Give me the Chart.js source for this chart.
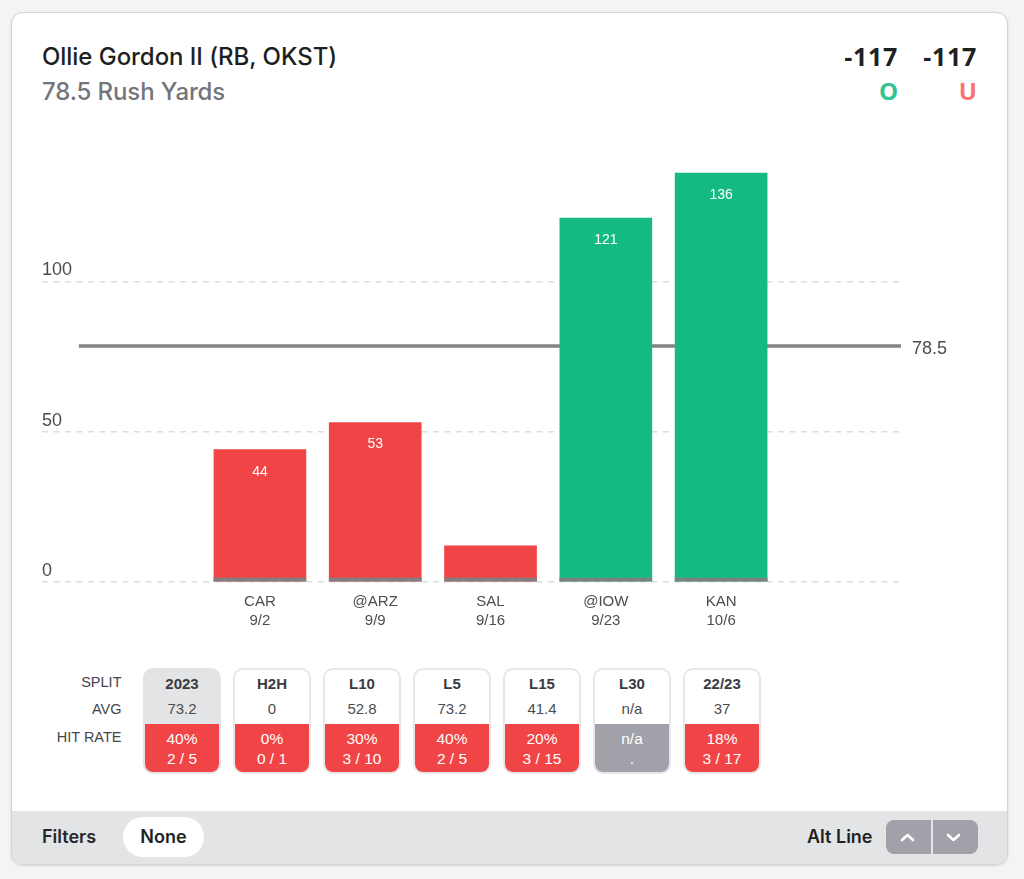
<!DOCTYPE html>
<html>
<head>
<meta charset="utf-8">
<script src="https://cdn.jsdelivr.net/npm/chart.js@4"></script>
<style>
html, body { margin: 0; padding: 0; background: #f4f4f4; width: 1024px; height: 879px; overflow: hidden; }
body { font-family: Inter, sans-serif; position: relative; }
.abs { position: absolute; white-space: nowrap; }
#card { left: 11px; top: 12px; width: 995px; height: 851px; background: #fff; border: 1px solid #d2d3d5; border-radius: 12px; box-shadow: 0 1px 3px rgba(0,0,0,.12); overflow: hidden; }
#footer { left: 0; top: 798px; width: 995px; height: 53px; background: #e3e4e6; }
#chartBox { left: 42px; top: 149px; width: 930px; height: 493px; }
#chart { display: block; }
.rowLabel { right: 902.5px; font: 14.5px "Liberation Sans", sans-serif; color: #45464c; }
.split { width: 74px; height: 102px; top: 668px; border: 2px solid #e6e7e9; border-radius: 10px; overflow: hidden; background: #fff; text-align: center; color: #3a3b40; font-family: "Liberation Sans", sans-serif; }
.split.active { border-color: #e3e4e6; background: #e3e4e6; }
.split .h { position: absolute; left: 0; right: 0; top: 4px; font: bold 15px/20px "Liberation Sans", sans-serif; }
.split .a { position: absolute; left: 0; right: 0; top: 29px; font: 15px/20px "Liberation Sans", sans-serif; color: #4c4d53; }
.split .r { position: absolute; left: 0; right: 0; top: 54px; background: #f14446; color: #fff; font: 15.5px/20px "Liberation Sans", sans-serif; padding-top: 5px; height: 45px; }
.split .r.na { background: #a1a2a9; }
</style>
</head>
<body>
<div id="card" class="abs"><div id="footer" class="abs"></div></div>

<div class="abs" style="left:42px;top:41px;font:500 24px/32px Inter,sans-serif;letter-spacing:-0.05px;color:#1e1f23">Ollie Gordon II (RB, OKST)</div>
<div class="abs" style="left:42px;top:76px;font:500 24px/32px Inter,sans-serif;letter-spacing:-0.12px;color:#73757b">78.5 Rush Yards</div>
<div class="abs" style="right:126px;top:40px;font:700 25px/32px 'Open Sans',sans-serif;letter-spacing:0.7px;color:#1e1f23">-117</div>
<div class="abs" style="right:47px;top:40px;font:700 25px/32px 'Open Sans',sans-serif;letter-spacing:0.7px;color:#1e1f23">-117</div>
<div class="abs" style="right:126px;top:75px;font:700 24px/32px 'Open Sans',sans-serif;color:#34c48f">O</div>
<div class="abs" style="right:47px;top:75px;font:700 24px/32px 'Open Sans',sans-serif;color:#f97373">U</div>

<div id="chartBox" class="abs"><canvas id="chart" width="930" height="493"></canvas></div>

<div id="table"></div>

<div class="abs" style="left:42px;top:825px;font:600 18px/24px Inter,sans-serif;color:#27282c">Filters</div>
<div class="abs" style="left:123px;top:817px;width:81px;height:40px;border-radius:20px;background:#fff;text-align:center;font:600 18px/40px Inter,sans-serif;color:#1e1f23">None</div>
<div class="abs" style="left:807px;top:825px;font:600 18px/24px Inter,sans-serif;color:#1e1f23">Alt Line</div>
<div class="abs" style="left:886px;top:820px;width:45px;height:34px;background:#a1a2a9;border-radius:8px 0 0 8px">
  <svg width="45" height="34"><path d="M16 20 L21.5 15 L27 20" fill="none" stroke="#fff" stroke-width="2.6" stroke-linecap="round" stroke-linejoin="round"/></svg>
</div>
<div class="abs" style="left:933px;top:820px;width:45px;height:34px;background:#a1a2a9;border-radius:0 8px 8px 0">
  <svg width="45" height="34"><path d="M15 15 L20.5 20 L26 15" fill="none" stroke="#fff" stroke-width="2.6" stroke-linecap="round" stroke-linejoin="round"/></svg>
</div>

<script>
// bars
const opponents = ['CAR', '@ARZ', 'SAL', '@IOW', 'KAN'];
const gameDates = ['9/2', '9/9', '9/16', '9/23', '10/6'];
const rushYards = [44, 53, 12, 121, 136];
const barLabels = ['44', '53', '', '121', '136'];
const barSlots = [0, 1, 2, 3, 4];
const baseStrip = [1.3, 1.3, 1.3, 1.3, 1.3];
const propLine = 78.5;
const lineSlots = [-1.57, 5.56];
const yTicks = [0, 50, 100];

// table below the chart
const splitNames = ['2023', 'H2H', 'L10', 'L5', 'L15', 'L30', '22/23'];
const splitAvgs = ['73.2', '0', '52.8', '73.2', '41.4', 'n/a', '37'];
const splitRates = ['40%', '0%', '30%', '40%', '20%', 'n/a', '18%'];
const splitCounts = ['2 / 5', '0 / 1', '3 / 10', '2 / 5', '3 / 15', '.', '3 / 17'];
const rowLabels = ['SPLIT', 'AVG', 'HIT RATE'];
const rowTops = [674, 701, 729];

const table = document.getElementById('table');
rowLabels.forEach((txt, i) => {
    const el = document.createElement('div');
    el.className = 'abs rowLabel';
    el.style.top = rowTops[i] + 'px';
    el.textContent = txt;
    table.appendChild(el);
});
splitNames.forEach((name, i) => {
    const el = document.createElement('div');
    el.className = 'abs split' + (i === 0 ? ' active' : '');
    el.style.left = (143 + i * 90) + 'px';
    const isNa = splitRates[i] === 'n/a';
    el.innerHTML = `<div class="h">${name}</div><div class="a">${splitAvgs[i]}</div>` +
        `<div class="r${isNa ? ' na' : ''}">${splitRates[i]}<br>${splitCounts[i]}</div>`;
    table.appendChild(el);
});

const barColors = rushYards.map(v => v > propLine ? '#13bb83' : '#f14446');

// value text inside the bars and the 78.5 tag at the end of the line
const textPlugin = {
    id: 'textPlugin',
    afterDatasetsDraw(chart) {
        const { ctx, scales: { x, y }, chartArea } = chart;
        ctx.save();
        ctx.font = '14px "Liberation Sans", sans-serif';
        ctx.fillStyle = '#fff';
        ctx.textAlign = 'center';
        ctx.textBaseline = 'middle';
        barSlots.forEach((slot, i) => {
            ctx.fillText(barLabels[i], x.getPixelForValue(slot), y.getPixelForValue(rushYards[i]) + 22);
        });
        ctx.font = '18px "Liberation Sans", sans-serif';
        ctx.fillStyle = '#4c4d53';
        ctx.textAlign = 'left';
        ctx.fillText(String(propLine), chartArea.right + 11, y.getPixelForValue(propLine) + 3.5);
        ctx.restore();
    }
};

new Chart(document.getElementById('chart'), {
    data: {
        datasets: [
            {
                type: 'bar',
                data: barSlots.map((s, i) => ({ x: s, y: baseStrip[i] })),
                backgroundColor: '#7f8084',
                barThickness: 92,
                grouped: false,
                order: 1
            },
            {
                type: 'bar',
                data: barSlots.map((s, i) => ({ x: s, y: rushYards[i] })),
                backgroundColor: barColors,
                barThickness: 92,
                grouped: false,
                order: 2
            },
            {
                type: 'line',
                data: lineSlots.map(s => ({ x: s, y: propLine })),
                borderColor: '#838487',
                borderWidth: 3.5,
                pointRadius: 0,
                order: 3
            }
        ]
    },
    options: {
        responsive: false,
        animation: false,
        layout: { padding: { right: 71 } },
        plugins: { legend: { display: false }, tooltip: { enabled: false } },
        scales: {
            x: {
                type: 'linear',
                offset: false,
                min: -1.89,
                max: 5.56,
                grid: { display: false },
                border: { display: false },
                afterBuildTicks(scale) { scale.ticks = barSlots.map(v => ({ value: v })); },
                afterFit(scale) { scale.height = 60; },
                ticks: {
                    autoSkip: false,
                    maxRotation: 0,
                    padding: 2,
                    color: '#4c4d53',
                    font: { family: '"Liberation Sans", sans-serif', size: 15, lineHeight: 1.27 },
                    callback: (v) => [opponents[v], gameDates[v]]
                }
            },
            y: {
                min: 0,
                max: 140.4,
                grid: { color: '#dcdddf', lineWidth: 1.5, drawTicks: false },
                border: { display: false, dash: [6, 5.5] },
                afterBuildTicks(scale) { scale.ticks = yTicks.map(v => ({ value: v })); },
                ticks: {
                    mirror: true,
                    padding: 0,
                    labelOffset: -11,
                    color: '#4c4d53',
                    font: { family: '"Liberation Sans", sans-serif', size: 18 }
                }
            }
        }
    },
    plugins: [textPlugin]
});
</script>
</body>
</html>
